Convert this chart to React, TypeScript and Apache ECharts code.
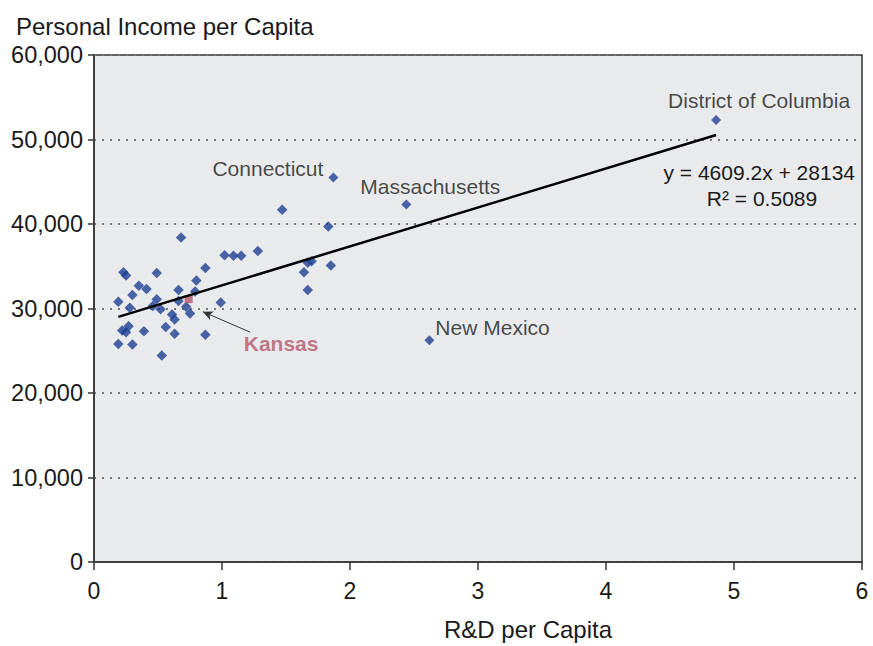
import React, { useEffect, useRef } from "react";
import * as echarts from "echarts";

// Unlabelled states: R&D per capita (x) and personal income per capita (y)
const rdPerCapita = [
  0.23, 0.25, 0.49, 0.87, 0.35, 0.41, 0.8, 0.3, 0.66, 0.79,
  0.19, 0.49, 0.66, 0.28, 0.46, 0.52, 0.72, 0.61, 0.75, 0.63,
  0.27, 0.22, 0.25, 0.39, 0.56, 0.63, 0.87, 0.19, 0.3, 0.53,
  0.99, 0.68, 1.02, 1.09, 1.15, 1.28, 1.47, 1.83, 1.67, 1.7,
  1.64, 1.85, 1.67,
];
const incomePerCapita = [
  34300, 33900, 34200, 34800, 32700, 32300, 33300, 31600, 32200, 32000,
  30800, 31100, 30900, 30100, 30300, 29900, 30200, 29300, 29400, 28700,
  27900, 27400, 27200, 27300, 27800, 27000, 26900, 25800, 25750, 24450,
  30700, 38400, 36300, 36250, 36250, 36800, 41700, 39700, 35400, 35600,
  34300, 35100, 32200,
];

// Labelled states
const labeledStates = ["District of Columbia", "Connecticut", "Massachusetts", "New Mexico"];
const labeledRD = [4.86, 1.87, 2.44, 2.62];
const labeledIncome = [52300, 45500, 42300, 26250];

// Highlighted state
const highlightState = "Kansas";
const highlightRD = 0.74;
const highlightIncome = 31100;

// Trend line (from the chart's equation)
const trendSlope = 4609.2;
const trendIntercept = 28134;
const trendRange = [0.19, 4.86];
const rSquared = 0.5089;

// Axes
const xTicks = [0, 1, 2, 3, 4, 5, 6];
const yTicks = [0, 10000, 20000, 30000, 40000, 50000, 60000];

const FONT = "'Liberation Sans', Arial, Helvetica, sans-serif";
const TEXT = "#1a1a1a";
const BLUE = "#1d3f92";
const PINK = "#b5566a";

const labelPlacement: Record<string, { position: string; offset: number[] }> = {
  "District of Columbia": { position: "top", offset: [43, 1] },
  Connecticut: { position: "left", offset: [0, -9] },
  Massachusetts: { position: "top", offset: [24, 2] },
  "New Mexico": { position: "right", offset: [-4, -13] },
};

const fmt = (v: number) => String(v).replace(/\B(?=(\d{3})+(?!\d))/g, ",");

export default function App() {
  const ref = useRef<HTMLDivElement>(null);
  useEffect(() => {
    if (!ref.current) return;
    const chart = echarts.init(ref.current, undefined, { renderer: "svg" });

    const plain = rdPerCapita.map((x, i) => [x, incomePerCapita[i]]);
    const labeled = labeledStates.map((name, i) => ({
      name,
      value: [labeledRD[i], labeledIncome[i]],
      label: {
        show: true,
        formatter: name,
        position: labelPlacement[name].position,
        offset: labelPlacement[name].offset,
        distance: 5,
        fontSize: 21,
        color: TEXT,
        fontFamily: FONT,
      },
    }));
    const trend = trendRange.map((x) => [x, trendIntercept + trendSlope * x]);

    chart.setOption({
      animation: false,
      textStyle: { fontFamily: FONT },
      title: {
        text: "Personal Income per Capita",
        left: 11,
        top: 9,
        textStyle: { fontSize: 24, fontWeight: "normal", color: TEXT, fontFamily: FONT },
      },
      grid: {
        left: 94,
        right: 11,
        top: 55,
        bottom: 79,
        show: true,
        backgroundColor: "#e9eaec",
        borderColor: "#333",
        borderWidth: 1.5,
      },
      xAxis: {
        type: "value",
        min: xTicks[0],
        max: xTicks[xTicks.length - 1],
        interval: 1,
        name: "R&D per Capita",
        nameLocation: "middle",
        nameGap: 55,
        nameTextStyle: { fontSize: 24, color: TEXT, fontFamily: FONT, padding: [0, 0, 0, 100] },
        axisLine: { show: true, lineStyle: { color: "#333", width: 1.5 } },
        axisTick: { show: true, inside: false, length: 8, lineStyle: { color: "#333", width: 1.5 } },
        axisLabel: { fontSize: 23, color: TEXT, margin: 17, fontFamily: FONT },
        splitLine: { show: false },
      },
      yAxis: {
        type: "value",
        min: yTicks[0],
        max: yTicks[yTicks.length - 1],
        interval: 10000,
        axisLine: { show: true, lineStyle: { color: "#333", width: 1.5 } },
        axisTick: { show: true, inside: false, length: 6, lineStyle: { color: "#333", width: 1.5 } },
        axisLabel: { fontSize: 23.5, color: TEXT, margin: 11, fontFamily: FONT, formatter: (v: number) => fmt(v) },
        splitLine: {
          show: true,
          lineStyle: { color: "#777", width: 2, type: [2, 6] },
        },
      },
      series: [
        {
          type: "scatter",
          symbol: "diamond",
          symbolSize: 10.5,
          itemStyle: { color: BLUE },
          data: plain,
          z: 3,
        },
        {
          type: "scatter",
          symbol: "diamond",
          symbolSize: 10,
          itemStyle: { color: BLUE },
          data: labeled,
          z: 3,
        },
        {
          type: "scatter",
          symbol: "rect",
          symbolSize: 8,
          itemStyle: { color: PINK },
          data: [
            {
              name: highlightState,
              value: [highlightRD, highlightIncome],
              label: {
                show: true,
                formatter: highlightState,
                position: "right",
                offset: [46, 44],
                fontSize: 21,
                fontWeight: "bold",
                color: PINK,
                fontFamily: FONT,
              },
            },
          ],
          markLine: {
            silent: true,
            symbol: ["none", "arrow"],
            symbolSize: [7, 10],
            lineStyle: { color: "#333", width: 1, type: "solid" },
            label: { show: false },
            data: [[{ coord: [1.22, 27200] }, { coord: [0.85, 29620] }]],
          },
          z: 4,
        },
        {
          type: "line",
          data: trend,
          showSymbol: false,
          symbol: "none",
          lineStyle: { color: "#000", width: 2.5 },
          z: 5,
        },
      ],
      graphic: [
        {
          type: "text",
          x: 855,
          y: 172,
          style: {
            text: `y = ${trendSlope}x + ${trendIntercept}`,
            fontSize: 21,
            fill: TEXT,
            fontFamily: FONT,
            align: "right",
            verticalAlign: "middle",
          },
        },
        {
          type: "text",
          x: 762,
          y: 198,
          style: {
            text: `R\u00b2 = ${rSquared}`,
            fontSize: 21,
            fill: TEXT,
            fontFamily: FONT,
            align: "center",
            verticalAlign: "middle",
          },
        },
      ],
    });
    return () => chart.dispose();
  }, []);
  return (
    <div
      ref={ref}
      style={{ position: "fixed", left: 0, top: 0, width: 873, height: 646, background: "#fff" }}
    />
  );
}
